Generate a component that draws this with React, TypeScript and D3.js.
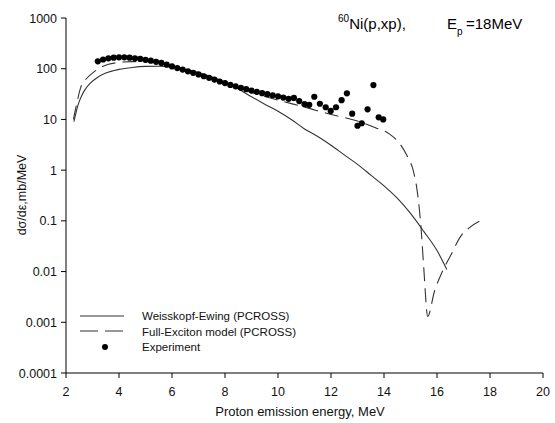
import React from "react";
import * as d3 from "d3";

const W = 555;
const H = 423;

const xTicks = [2, 4, 6, 8, 10, 12, 14, 16, 18, 20];
const yTicks = [1000, 100, 10, 1, 0.1, 0.01, 0.001, 0.0001];
const yTickLabels = ["1000", "100", "10", "1", "0.1", "0.01", "0.001", "0.0001"];

const weisskopfE = [2.3, 2.45, 2.6, 2.75, 2.9, 3.2, 3.5, 4.0, 4.5, 5.0, 5.5, 6.0, 6.5, 7.0, 7.5, 8.0, 8.5, 9.0, 9.5, 10.0, 10.5, 11.0, 11.5, 12.0, 12.5, 13.0, 13.5, 14.0, 14.5, 15.0, 15.5, 16.0, 16.37];
const weisskopfV = [9, 19, 30, 41, 51, 68, 82, 97, 106, 111, 112, 108, 97, 84, 69, 54, 40, 28, 20, 14.5, 10, 6.5, 4.6, 3.1, 2.0, 1.3, 0.8, 0.49, 0.28, 0.14, 0.062, 0.026, 0.011];

const excitonE = [2.28, 2.4, 2.55, 2.75, 3.0, 3.3, 3.6, 4.0, 4.5, 5.0, 5.5, 6.0, 7.0, 8.0, 9.0, 10.0, 11.0, 12.0, 13.0, 13.7, 14.2, 14.6, 14.9, 15.1, 15.25, 15.4, 15.5, 15.65, 15.9, 16.2, 16.5, 16.9, 17.2, 17.7];
const excitonV = [10, 20, 42, 62, 82, 105, 122, 133, 138, 137, 128, 114, 80, 51, 34, 24, 17.5, 12.5, 9.3, 6.8, 5.2, 3.3, 1.8, 1.0, 0.4, 0.07, 0.012, 0.0013, 0.004, 0.01, 0.02, 0.05, 0.072, 0.105];

const expE = [3.2, 3.4, 3.6, 3.8, 4.0, 4.2, 4.4, 4.6, 4.8, 5.0, 5.2, 5.4, 5.6, 5.8, 6.0, 6.2, 6.4, 6.6, 6.8, 7.0, 7.2, 7.4, 7.6, 7.8, 8.0, 8.2, 8.4, 8.6, 8.8, 9.0, 9.2, 9.4, 9.6, 9.8, 10.0, 10.2, 10.4, 10.6, 10.8, 11.0, 11.18, 11.37, 11.58, 11.8, 11.99, 12.19, 12.4, 12.6, 12.8, 13.0, 13.16, 13.38, 13.6, 13.8, 13.97];
const expV = [140, 152, 160, 165, 168, 168, 165, 161, 156, 150, 144, 137, 130, 120, 111, 103, 96, 89, 83, 77, 71, 66, 61, 56, 52, 48, 45, 42, 39.5, 37, 35, 33, 31.5, 30, 28.5, 27, 25.5, 26.5, 23, 20, 19.4, 28, 20.4, 17.4, 14.7, 17.4, 24, 32.7, 13, 7.5, 8.4, 15.8, 47.6, 11, 10];

const legendLabels = ["Weisskopf-Ewing (PCROSS)", "Full-Exciton model (PCROSS)", "Experiment"];

export default function App() {
  const x = d3.scaleLinear().domain([2, 20]).range([66, 543]);
  const y = d3.scaleLog().domain([0.0001, 1000]).range([373, 18]);
  const line = d3
    .line<[number, number]>()
    .x((d) => x(d[0]))
    .y((d) => y(d[1]))
    .curve(d3.curveMonotoneX);

  const wData = weisskopfE.map((e, i) => [e, weisskopfV[i]] as [number, number]);
  const eData = excitonE.map((e, i) => [e, excitonV[i]] as [number, number]);

  const font = "'Liberation Sans', Arial, sans-serif";
  const lineColor = "#333";

  return (
    <svg
      width={W}
      height={H}
      style={{ position: "absolute", left: 0, top: 0, background: "#fff" }}
      fontFamily={font}
    >
      {/* axes */}
      <line x1={66} x2={66} y1={y(1000)} y2={373} stroke="#000" />
      <line x1={66} x2={543} y1={373} y2={373} stroke="#000" />
      {yTicks.map((t, i) => (
        <g key={"y" + i}>
          <line x1={61} x2={66} y1={y(t)} y2={y(t)} stroke="#000" />
          <text x={57} y={y(t) + 4.5} textAnchor="end" fontSize={12.5} fill="#111">
            {yTickLabels[i]}
          </text>
        </g>
      ))}
      {xTicks.map((t) => (
        <g key={"x" + t}>
          <line x1={x(t)} x2={x(t)} y1={373} y2={378} stroke="#000" />
          <text x={x(t)} y={396} textAnchor="middle" fontSize={12.5} fill="#111">
            {t}
          </text>
        </g>
      ))}
      <text x={300} y={416} textAnchor="middle" fontSize={13} fill="#111">
        Proton emission energy, MeV
      </text>
      <text
        transform="translate(26,195) rotate(-90)"
        textAnchor="middle"
        fontSize={12.5}
        fill="#111"
      >
        dσ/dε,mb/MeV
      </text>

      {/* title */}
      <text x={338} y={29} fontSize={15} fill="#000">
        <tspan fontSize={10} dy={-7}>60</tspan>
        <tspan dy={7}>Ni(p,xp),</tspan>
      </text>
      <text x={447} y={29} fontSize={15} fill="#000">
        E
      </text>
      <text x={457} y={35} fontSize={10} fill="#000">
        p
      </text>
      <text x={466} y={29} fontSize={15} fill="#000">
        =18MeV
      </text>

      {/* curves */}
      <path d={line(wData) || ""} fill="none" stroke={lineColor} strokeWidth={1.1} />
      <path
        d={line(eData) || ""}
        fill="none"
        stroke={lineColor}
        strokeWidth={1.1}
        strokeDasharray="14,7"
      />
      {expE.map((e, i) => (
        <circle key={"p" + i} cx={x(e)} cy={y(expV[i])} r={3.1} fill="#000" />
      ))}

      {/* legend */}
      <line x1={80} x2={124} y1={316} y2={316} stroke={lineColor} strokeWidth={1.1} />
      <line
        x1={80}
        x2={124}
        y1={331}
        y2={331}
        stroke={lineColor}
        strokeWidth={1.1}
        strokeDasharray="18,7"
      />
      <circle cx={105} cy={347} r={3} fill="#000" />
      {legendLabels.map((l, i) => (
        <text key={l} x={142} y={320 + i * 15.5} fontSize={11.5} fill="#111">
          {l}
        </text>
      ))}
    </svg>
  );
}
